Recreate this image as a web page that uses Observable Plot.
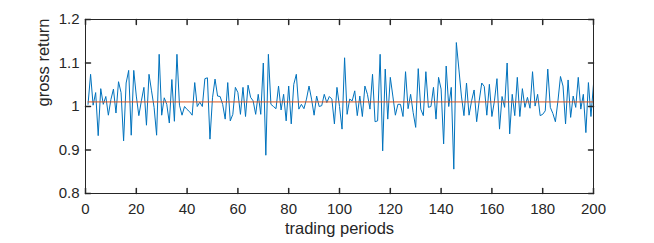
<!DOCTYPE html>
<html><head><meta charset="utf-8">
<script src="https://cdn.jsdelivr.net/npm/d3@7"></script>
<script src="https://cdn.jsdelivr.net/npm/@observablehq/plot@0.6"></script>
<style>
html,body{margin:0;padding:0;background:#fff;}
#chart svg{display:block;}
</style>
</head><body><div id="chart"></div>
<script>
// gross return per trading period (periods 1..200)
const grossReturn = [
1.005,1.074,1.003,1.032,0.933,1.041,1.005,1.023,0.980,1.016,
1.040,0.985,1.057,1.032,0.921,1.054,1.083,0.934,1.083,1.024,
0.979,1.013,1.044,0.957,1.074,1.036,0.998,0.934,1.120,0.980,
1.020,1.005,0.962,1.062,0.966,1.120,1.003,0.980,1.000,0.993,
0.988,0.980,1.055,1.000,1.010,1.000,1.064,1.066,0.925,1.020,
1.063,1.024,1.023,1.005,0.971,1.055,0.967,0.982,1.044,1.032,
0.982,1.044,0.977,1.049,1.021,1.013,0.982,1.028,0.982,1.100,
0.888,1.120,1.005,1.000,0.995,1.047,0.992,1.028,0.967,1.047,
0.960,1.051,1.074,0.994,1.005,0.995,1.017,1.047,1.017,0.980,
1.024,1.000,1.002,1.028,1.009,1.023,1.017,0.960,1.044,1.000,
0.948,1.112,0.982,1.017,1.013,1.036,0.979,1.024,0.977,1.047,
1.028,0.994,1.074,0.965,0.967,1.120,0.898,1.086,0.971,1.067,
1.024,0.980,1.005,1.005,0.977,1.080,0.995,1.028,0.986,0.952,
1.087,0.994,0.979,1.080,0.998,1.000,1.044,0.971,1.067,1.040,
0.914,1.093,1.000,1.044,0.856,1.147,1.086,1.024,0.979,1.054,
0.980,1.013,1.038,0.965,1.013,1.054,1.046,0.980,1.051,0.977,
1.013,1.064,0.948,1.023,0.998,1.100,0.937,1.028,0.979,1.067,
0.977,1.041,0.998,1.021,0.996,1.080,1.001,1.028,0.979,0.982,
0.990,1.086,0.998,0.984,0.965,1.013,1.069,1.047,0.960,1.061,
0.975,1.024,0.998,1.067,0.994,1.028,0.940,1.055,0.977,1.051
];
const meanReturn = 1.0105;
const xDomain = [0, 200];
const yDomain = [0.8, 1.2];
const xTicks = [0, 20, 40, 60, 80, 100, 120, 140, 160, 180, 200];
const yTicks = [0.8, 0.9, 1.0, 1.1, 1.2];
const yTickLabels = ["0.8", "0.9", "1", "1.1", "1.2"];
const xLabel = "trading periods";
const yLabel = "gross return";

const data = grossReturn.map((v, i) => ({period: i + 1, value: v}));
const firstPeriod = data[0].period, lastPeriod = data[data.length - 1].period;

const ink = "#262626";
const tickShape = {draw(context, l) { context.moveTo(0, 0); context.lineTo(0, -l); }};
const tickLen = 5;

const chart = Plot.plot({
  width: 654,
  height: 243,
  marginLeft: 85,
  marginRight: 61,
  marginTop: 19,
  marginBottom: 50,
  style: {fontFamily: "'Liberation Sans', Arial, Helvetica, sans-serif", background: "#fff", color: ink},
  x: {domain: xDomain},
  y: {domain: yDomain},
  marks: [
    Plot.line(data, {x: "period", y: "value", stroke: "#0072BD", strokeWidth: 1}),
    Plot.ruleY([meanReturn], {x1: firstPeriod, x2: lastPeriod, stroke: "#D95319", strokeWidth: 1}),
    Plot.frame({stroke: ink, strokeWidth: 1}),
    Plot.vector(xTicks, {x: d => d, frameAnchor: "bottom", length: tickLen, rotate: 0, anchor: "start", shape: tickShape, stroke: ink}),
    Plot.vector(xTicks, {x: d => d, frameAnchor: "top", length: tickLen, rotate: 180, anchor: "start", shape: tickShape, stroke: ink}),
    Plot.vector(yTicks, {y: d => d, frameAnchor: "left", length: tickLen, rotate: 90, anchor: "start", shape: tickShape, stroke: ink}),
    Plot.vector(yTicks, {y: d => d, frameAnchor: "right", length: tickLen, rotate: -90, anchor: "start", shape: tickShape, stroke: ink}),
    Plot.axisX({ticks: xTicks, tickSize: 0, tickPadding: 10, fontSize: 15, label: null, fill: ink}),
    Plot.axisY({ticks: yTicks, tickFormat: d => yTickLabels[yTicks.indexOf(d)], tickSize: 0, tickPadding: 6, fontSize: 15, label: null, fill: ink}),
    Plot.text([xLabel], {text: d => d, frameAnchor: "bottom", dy: 40, fontSize: 16.5, fill: ink}),
    Plot.text([yLabel], {text: d => d, frameAnchor: "left", dx: -42, rotate: -90, fontSize: 16.5, fill: ink})
  ]
});
document.getElementById("chart").appendChild(chart);
</script>
</body></html>
